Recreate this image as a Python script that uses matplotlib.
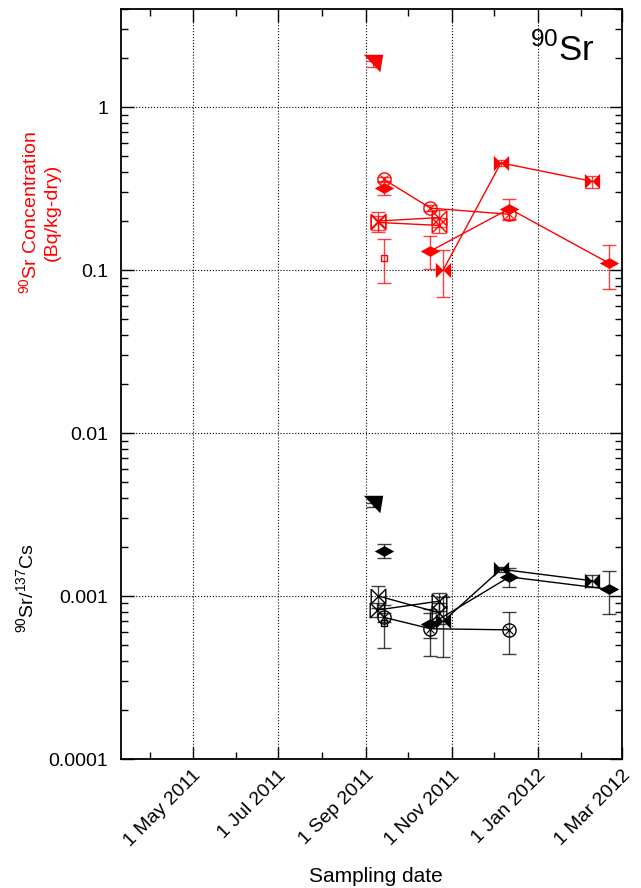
import numpy as np
import matplotlib
matplotlib.use('Agg')
import matplotlib.pyplot as plt
import matplotlib.transforms as mtransforms
from matplotlib.ticker import LogLocator, NullFormatter

plt.rcParams['font.family'] = ['Liberation Sans', 'DejaVu Sans']
plt.rcParams['mathtext.fontset'] = 'custom'
plt.rcParams['mathtext.rm'] = 'Liberation Sans'

RED = '#ff0000'
BLACK = '#000000'

# --- 90Sr concentration (Bq/kg-dry), red ---
conc_tri_dates = ['2011-09-06']
conc_tri = [1.85]
conc_tri_err = [0.08]

conc_dia1_dates = ['2011-09-14']
conc_dia1 = [0.318]
conc_dia1_err = [0.03]

conc_sq_dates = ['2011-09-14']
conc_sq = [0.119]
conc_sq_err = [0.036]

conc_circ_dates = ['2011-09-14', '2011-10-17', '2011-12-12']
conc_circ = [0.36, 0.24, 0.22]
conc_circ_err = [0.01, 0.01, 0.015]

conc_hbow1_dates = ['2011-09-10', '2011-10-23']
conc_hbow1 = [0.20, 0.21]
conc_hbow1_err = [0.028, 0.025]

conc_hbow2_dates = ['2011-09-10', '2011-10-23']
conc_hbow2 = [0.196, 0.188]
conc_hbow2_err = [0.02, 0.02]

conc_bow_dates = ['2011-10-26', '2011-12-06', '2012-02-09']
conc_bow = [0.10, 0.455, 0.35]
conc_bow_err = [0.032, 0.02, 0.03]

conc_dia_dates = ['2011-10-17', '2011-12-12', '2012-02-21']
conc_dia = [0.131, 0.238, 0.11]
conc_dia_err = [0.03, 0.035, 0.033]

# --- 90Sr/137Cs ratio, black ---
ratio_tri_dates = ['2011-09-06']
ratio_tri = [0.0036]
ratio_tri_err = [0.0001]

ratio_dia1_dates = ['2011-09-14']
ratio_dia1 = [0.0019]
ratio_dia1_err = [0.0002]

ratio_sq_dates = ['2011-09-14']
ratio_sq = [0.00068]
ratio_sq_err = [0.0002]

ratio_circ_dates = ['2011-09-14', '2011-10-17', '2011-12-12']
ratio_circ = [0.00074, 0.00063, 0.00062]
ratio_circ_err = [0.00005, 0.0002, 0.00018]

ratio_hbow1_dates = ['2011-09-10', '2011-10-23']
ratio_hbow1 = [0.00100, 0.00079]
ratio_hbow1_err = [0.00015, 0.00012]

ratio_hbow2_dates = ['2011-09-09', '2011-10-23']
ratio_hbow2 = [0.00082, 0.00093]
ratio_hbow2_err = [0.00008, 0.00012]

ratio_bow_dates = ['2011-10-26', '2011-12-06', '2012-02-09']
ratio_bow = [0.00070, 0.00146, 0.00124]
ratio_bow_err = [0.00028, 0.00005, 0.0001]

ratio_dia_dates = ['2011-10-17', '2011-12-12', '2012-02-21']
ratio_dia = [0.00067, 0.00131, 0.0011]
ratio_dia_err = [0.00012, 0.00018, 0.00032]

x_tick_dates = ['2011-05-01', '2011-07-01', '2011-09-01', '2011-11-01', '2012-01-01', '2012-03-01']
x_tick_labels = ['1 May 2011', '1 Jul 2011', '1 Sep 2011', '1 Nov 2011', '1 Jan 2012', '1 Mar 2012']
x_minor_dates = ['2011-04-01', '2011-06-01', '2011-08-01', '2011-10-01', '2011-12-01', '2012-02-01']
y_ticks = [1e-4, 1e-3, 1e-2, 1e-1, 1]
y_tick_labels = ['0.0001', '0.001', '0.01', '0.1', '1']

# marker shapes
TRI = [(-1, 1), (1, 1), (0.7, -0.8), (-1, 1)]
BOWTIE = [(-1, 1), (0, 0), (1, 1), (1, -1), (0, 0), (-1, -1), (-1, 1)]
DIAMOND = [(-1, 0), (0, 0.55), (1, 0), (0, -0.55), (-1, 0)]


def draw_series(ax, dates, vals, errs, color, marker, ms, filled=True, cross=False):
	d = np.array(dates, dtype='datetime64[D]')
	ax.errorbar(d, vals, yerr=errs, fmt='none', ecolor=color, elinewidth=1,
			capsize=5, capthick=1, alpha=0.75, zorder=2)
	ax.plot(d, vals, '-', color=color, lw=1, zorder=3)
	if filled:
		ax.plot(d, vals, ls='none', marker=marker, ms=ms, color=color,
				mec=color, mew=0, zorder=4)
	else:
		ax.plot(d, vals, ls='none', marker=marker, ms=ms, mfc='none',
				mec=color, mew=1, zorder=4)
	if cross:
		ax.plot(d, vals, ls='none', marker='x', ms=ms * 0.55, mec=color,
				mew=0.8, zorder=4)


fig = plt.figure(figsize=(6.41, 8.88), dpi=100)
ax = fig.add_axes([120.7 / 641, 1 - 759 / 888, (622 - 120.7) / 641, 750 / 888])

groups = [
	(RED, [
		(conc_tri_dates, conc_tri, conc_tri_err, TRI, 14, True, False),
		(conc_dia1_dates, conc_dia1, conc_dia1_err, DIAMOND, 14, True, False),
		(conc_sq_dates, conc_sq, conc_sq_err, 's', 5, False, False),
		(conc_circ_dates, conc_circ, conc_circ_err, 'o', 9.5, False, True),
		(conc_hbow1_dates, conc_hbow1, conc_hbow1_err, BOWTIE, 10.5, False, False),
		(conc_hbow2_dates, conc_hbow2, conc_hbow2_err, BOWTIE, 10.5, False, False),
		(conc_bow_dates, conc_bow, conc_bow_err, BOWTIE, 11, True, False),
		(conc_dia_dates, conc_dia, conc_dia_err, DIAMOND, 14, True, False),
	]),
	(BLACK, [
		(ratio_tri_dates, ratio_tri, ratio_tri_err, TRI, 14, True, False),
		(ratio_dia1_dates, ratio_dia1, ratio_dia1_err, DIAMOND, 14, True, False),
		(ratio_sq_dates, ratio_sq, ratio_sq_err, 's', 5, False, False),
		(ratio_circ_dates, ratio_circ, ratio_circ_err, 'o', 9.5, False, True),
		(ratio_hbow1_dates, ratio_hbow1, ratio_hbow1_err, BOWTIE, 10.5, False, False),
		(ratio_hbow2_dates, ratio_hbow2, ratio_hbow2_err, BOWTIE, 10.5, False, False),
		(ratio_bow_dates, ratio_bow, ratio_bow_err, BOWTIE, 11, True, False),
		(ratio_dia_dates, ratio_dia, ratio_dia_err, DIAMOND, 14, True, False),
	]),
]
for color, series in groups:
	for dates, vals, errs, marker, ms, filled, cross in series:
		draw_series(ax, dates, vals, errs, color, marker, ms, filled, cross)

ax.set_yscale('log')
ax.set_ylim(1e-4, 4)
ax.set_xlim(np.datetime64('2011-03-11'), np.datetime64('2012-03-01'))

ax.set_yticks(y_ticks, y_tick_labels)
ax.yaxis.set_minor_locator(LogLocator(base=10, subs=np.arange(2, 10)))
ax.yaxis.set_minor_formatter(NullFormatter())
ax.set_xticks(np.array(x_tick_dates, dtype='datetime64[D]'), x_tick_labels)
ax.set_xticks(np.array(x_minor_dates, dtype='datetime64[D]'), minor=True)

ax.tick_params(which='both', direction='in', top=True, right=True, labelsize=14)
ax.tick_params(which='major', length=9, width=1)
ax.tick_params(which='minor', length=5, width=1)
ax.tick_params(axis='y', pad=9)
ax.tick_params(axis='x', pad=10)
for lab in ax.get_xticklabels():
	lab.set_rotation(45)
	lab.set_ha('right')
	lab.set_va('center')
	lab.set_rotation_mode('anchor')
	lab.set_transform(lab.get_transform() + mtransforms.ScaledTranslation(4 / 72, 0, fig.dpi_scale_trans))

ax.grid(True, which='major', linestyle=':', color='k', lw=0.8)
for sp in ax.spines.values():
	sp.set_linewidth(1.3)

ax.text(0.946, 0.968, r'$^{90}$Sr', transform=ax.transAxes, ha='right', va='top', fontsize=25)

fig.text(39.5 / 641, 1 - 212 / 888, '$^{90}$Sr Concentration\n(Bq/kg-dry)', color=RED,
		rotation=90, ha='center', va='center', fontsize=14, multialignment='center')
fig.text(27 / 641, 1 - 588 / 888, r'$^{90}$Sr/$^{137}$Cs', rotation=90,
		ha='center', va='center', fontsize=14)
fig.text(376 / 641, 1 - 876 / 888, 'Sampling date', ha='center', va='center', fontsize=15)

fig.savefig('out.png', dpi=100)
